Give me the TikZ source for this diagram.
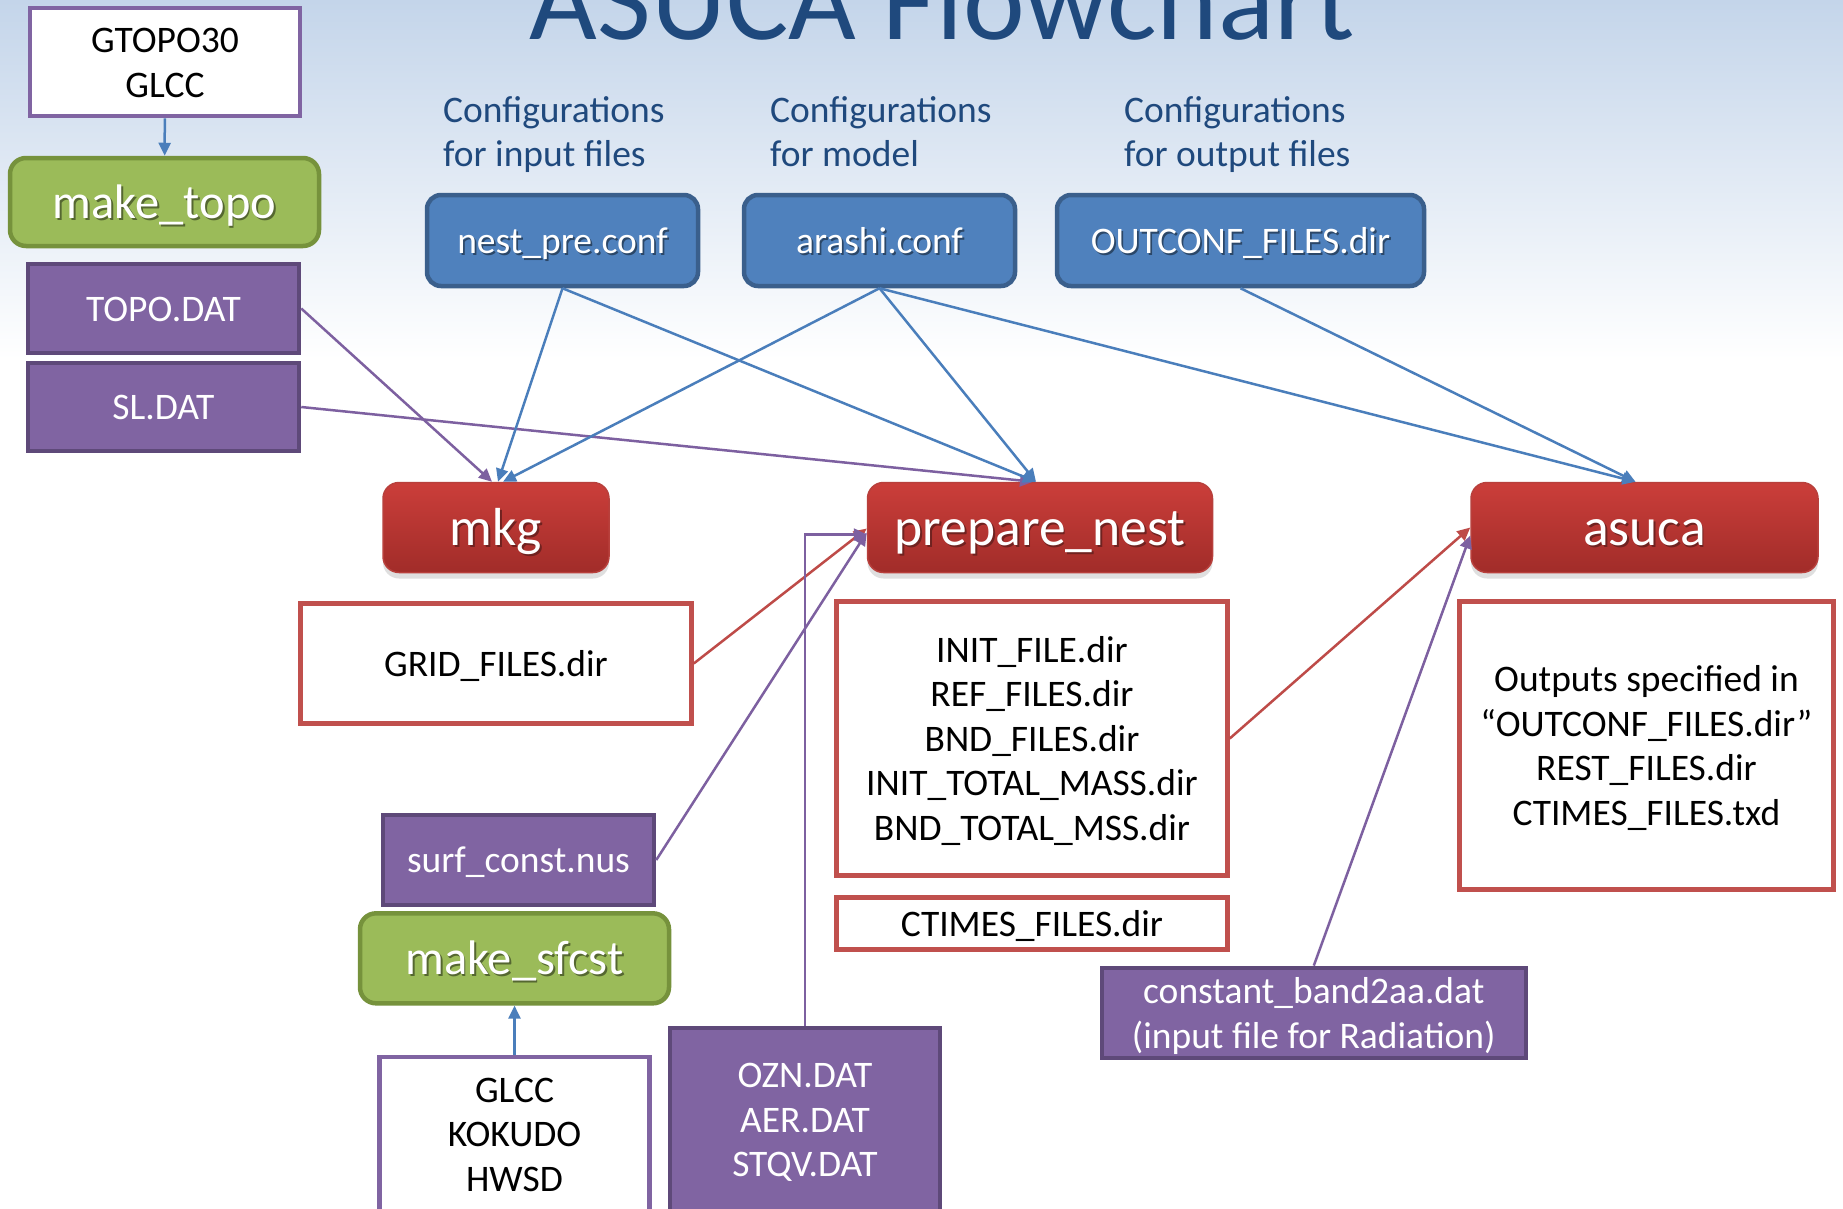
\documentclass[tikz,border=0pt]{standalone}
\usepackage{fontspec}
\setmainfont{Carlito}
\usetikzlibrary{arrows.meta,shadows,calc}
\definecolor{bgtop}{HTML}{C4D5EA}
\definecolor{titleblue}{HTML}{1F497D}
\definecolor{bluefill}{HTML}{4F81BD}
\definecolor{blueborder}{HTML}{3A5F8C}
\definecolor{greenfill}{HTML}{9BBB59}
\definecolor{greenborder}{HTML}{76923C}
\definecolor{purplefill}{HTML}{8064A2}
\definecolor{purpleborder}{HTML}{5E4979}
\definecolor{redtop}{HTML}{CB3E3A}
\definecolor{redbot}{HTML}{A12C29}
\definecolor{redborder}{HTML}{B8403C}
\definecolor{redoutline}{HTML}{C0504D}
\definecolor{bluearrow}{HTML}{4A7EBB}
\definecolor{purplearrow}{HTML}{7D60A0}
\definecolor{redarrow}{HTML}{BE4B48}
\newcommand\lnstrut{\vrule width 0pt height 0.952em depth 0.269em\relax}
\newcommand\shtxt[2]{\leavevmode\rlap{\kern1.8pt\raisebox{-1.8pt}{\textcolor{#1}{#2}}}#2}
\tikzset{
  boxbase/.style={inner sep=0pt, align=center, line width=4.5pt,
    execute at begin node=\lnstrut, execute at end node=\lnstrut},
  normaltext/.style={font=\fontsize{37.5}{44.5}\selectfont},
  bluebox/.style={boxbase, normaltext, fill=bluefill, draw=blueborder, rounded corners=14pt, text=white},
  greenbox/.style={boxbase, font=\fontsize{48.5}{56}\selectfont, fill=greenfill, draw=greenborder, rounded corners=16pt, text=white},
  redbox/.style={boxbase, font=\fontsize{53.5}{60}\selectfont, top color=redtop, bottom color=redbot, draw=redborder, line width=1.5pt, rounded corners=16pt, text=white,
    drop shadow={shadow xshift=0pt, shadow yshift=-6pt, opacity=0.25}},
  purplebox/.style={boxbase, normaltext, fill=purplefill, draw=purpleborder, text=white},
  whitepbox/.style={boxbase, normaltext, fill=white, draw=purplefill, text=black},
  whiterbox/.style={boxbase, normaltext, fill=white, draw=redoutline, text=black},
  cfglabel/.style={inner sep=0pt, normaltext, text=titleblue, anchor=base west},
  conn/.style={line width=2.5pt, -{Triangle[length=13pt,width=12pt]}},
  bluec/.style={conn, draw=bluearrow},
  purplec/.style={conn, draw=purplearrow},
  redc/.style={conn, draw=redarrow},
}
\begin{document}
\begin{tikzpicture}[x=1pt,y=-1pt]
\useasboundingbox (0,0) rectangle (1843,1208);
\clip (0,0) rectangle (1843,1208);
\fill[white] (0,0) rectangle (1843,1208);
\shade[top color=bgtop, bottom color=white] (0,0) rectangle (1843,360);

% title
\node[anchor=base, inner sep=0pt, font=\fontsize{117}{130}\selectfont, text=titleblue] (title) at (942,39) {ASUCA Flowchart};

% configuration labels
\node[cfglabel] (cfgAa) at (443,122) {Configurations};
\node[cfglabel] (cfgAb) at (443,166.5) {for input files};
\node[cfglabel] (cfgBa) at (770,122) {Configurations};
\node[cfglabel] (cfgBb) at (770,166.5) {for model};
\node[cfglabel] (cfgCa) at (1124,122) {Configurations};
\node[cfglabel] (cfgCb) at (1124,166.5) {for output files};

% left column
\node[whitepbox, minimum width=270, minimum height=108] (gtopo) at (165,62) {\lnstrut GTOPO30\\GLCC};
\node[greenbox, minimum width=309, minimum height=88] (maketopo) at (164.5,202) {\shtxt{black!45!greenfill}{make\_topo}};
\node[purplebox, minimum width=271, minimum height=89] (topo) at (163.5,308.5) {TOPO.DAT};
\node[purplebox, minimum width=271, minimum height=88] (sl) at (163.5,407) {SL.DAT};

% configuration boxes
\node[bluebox, minimum width=271, minimum height=91] (nestpre) at (562.5,240.5) {\shtxt{black!45!bluefill}{nest\_pre.conf}};
\node[bluebox, minimum width=271, minimum height=91] (arashi) at (879.5,240.5) {\shtxt{black!45!bluefill}{arashi.conf}};
\node[bluebox, minimum width=367, minimum height=91] (outconf) at (1240.5,240.5) {\shtxt{black!45!bluefill}{OUTCONF\_FILES.dir}};

% programs
\node[redbox, minimum width=226, minimum height=90] (mkg) at (496,527.5) {\shtxt{black!45!redtop}{mkg}};
\node[redbox, minimum width=345, minimum height=90] (prep) at (1040,527.5) {\shtxt{black!45!redtop}{prepare\_nest}};
\node[redbox, minimum width=347, minimum height=90] (asuca) at (1644.5,527.5) {\shtxt{black!45!redtop}{asuca}};

% outputs
\node[whiterbox, minimum width=391, minimum height=120] (grid) at (496,663.5) {GRID\_FILES.dir};
\node[whiterbox, minimum width=391, minimum height=274] (init) at (1032,738.5) {\lnstrut INIT\_FILE.dir\\REF\_FILES.dir\\BND\_FILES.dir\\INIT\_TOTAL\_MASS.dir\\BND\_TOTAL\_MSS.dir};
\node[whiterbox, minimum width=391, minimum height=52] (ctimes) at (1032,923.5) {CTIMES\_FILES.dir};
\node[whiterbox, minimum width=374, minimum height=288] (outputs) at (1646.5,745.5) {\lnstrut Outputs specified in\\“OUTCONF\_FILES.dir”\\REST\_FILES.dir\\CTIMES\_FILES.txd};

% bottom inputs
\node[purplebox, minimum width=271, minimum height=90] (surf) at (518.5,860) {surf\_const.nus};
\node[greenbox, minimum width=309, minimum height=90] (makesfcst) at (514.5,958.3) {\shtxt{black!45!greenfill}{make\_sfcst}};
\node[whitepbox, minimum width=270, minimum height=154] (glcc) at (514.5,1134) {\lnstrut GLCC\\KOKUDO\\HWSD};
\node[purplebox, minimum width=270, minimum height=183] (ozn) at (805,1119.5) {\lnstrut OZN.DAT\\AER.DAT\\STQV.DAT};
\node[purplebox, minimum width=424, minimum height=90] (band) at (1313.8,1013) {\lnstrut constant\_band2aa.dat\\(input file for Radiation)};

% connectors
\draw[bluec] (gtopo) -- (maketopo);
\draw[bluec] (glcc) -- (makesfcst);
\draw[purplec] (topo.east) -- ($(mkg.north)+(-4,0)$);
\draw[purplec] (sl.east) -- ($(prep.north)+(-7,0)$);
\draw[bluec] (nestpre.south) -- ($(mkg.north)+(2,0)$);
\draw[bluec] (arashi.south) -- ($(mkg.north)+(7,0)$);
\draw[bluec] (nestpre.south) -- ($(prep.north)+(-4,0)$);
\draw[bluec] (arashi.south) -- ($(prep.north)+(-4,0)$);
\draw[bluec] (arashi.south) -- ($(asuca.north)+(-9,0)$);
\draw[bluec] (outconf.south) -- ($(asuca.north)+(-9,0)$);
\draw[redc] (grid.east) -- ($(prep.west)+(0,1)$);
\draw[purplec] (surf.east) -- ($(prep.west)+(0,5)$);
\draw[purplec] (ozn.north) |- ($(prep.west)+(0,7)$);
\draw[redc] (init.east) -- (asuca.west);
\draw[purplec] (band.north) -- ($(asuca.west)+(0,8)$);
\end{tikzpicture}
\end{document}
